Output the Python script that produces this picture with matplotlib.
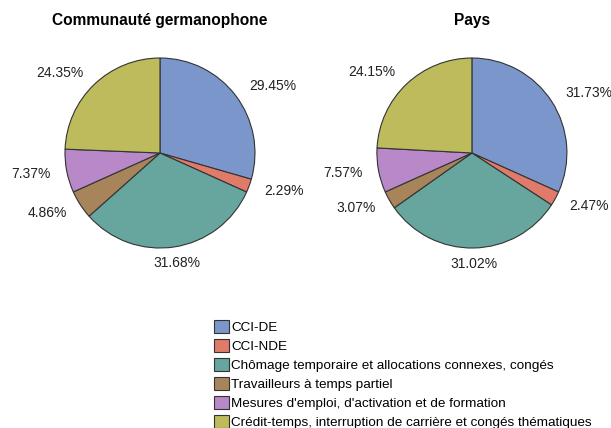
import numpy as np
import matplotlib.pyplot as plt

plt.rcParams['font.family'] = ['Liberation Sans', 'DejaVu Sans']

# Catégories et valeurs (%)
categories = [
    "CCI-DE",
    "CCI-NDE",
    "Chômage temporaire et allocations connexes, congés",
    "Travailleurs à temps partiel",
    "Mesures d'emploi, d'activation et de formation",
    "Crédit-temps, interruption de carrière et congés thématiques",
]
germanophone = [29.45, 2.29, 31.68, 4.86, 7.37, 24.35]
pays = [31.73, 2.47, 31.02, 3.07, 7.57, 24.15]
titles = ["Communauté germanophone", "Pays"]
colors = ["#7b96ca", "#e07b6a", "#66a69e", "#a8845a", "#b888c8", "#bdbb5c"]

fig = plt.figure(figsize=(6.11, 4.28), dpi=100)

positions = [[0.0675, 0.365, 0.3887, 0.555], [0.578, 0.365, 0.3887, 0.555]]
wedges = None
for pos, values, title in zip(positions, [germanophone, pays], titles):
    ax = fig.add_axes(pos)
    labels = [f"{v:.2f}%" for v in values]
    wedges, texts = ax.pie(values, labels=labels, colors=colors, startangle=90,
                           counterclock=False, labeldistance=1.17,
                           wedgeprops=dict(edgecolor="#333333", linewidth=0.8),
                           textprops=dict(fontsize=10, color="#222222"))
    # étiquettes du bas centrées
    for w, t in zip(wedges, texts):
        ang = np.deg2rad((w.theta1 + w.theta2) / 2)
        if abs(np.cos(ang)) < 0.3:
            t.set_ha("center")
    ax.set_xlim(-1.25, 1.25)
    ax.set_ylim(-1.25, 1.25)
    ax.set_aspect("equal")
    ax.set_title(title, fontsize=11.2, fontweight="bold", pad=0, y=1.04)

fig.legend(wedges, categories, loc="upper left", bbox_to_anchor=(0.35, 0.252),
           frameon=False, fontsize=9.7, handlelength=1.1, handleheight=1.1,
           handletextpad=0.2, labelspacing=0.36, borderaxespad=0, borderpad=0)

plt.savefig("out.png", dpi=100)
